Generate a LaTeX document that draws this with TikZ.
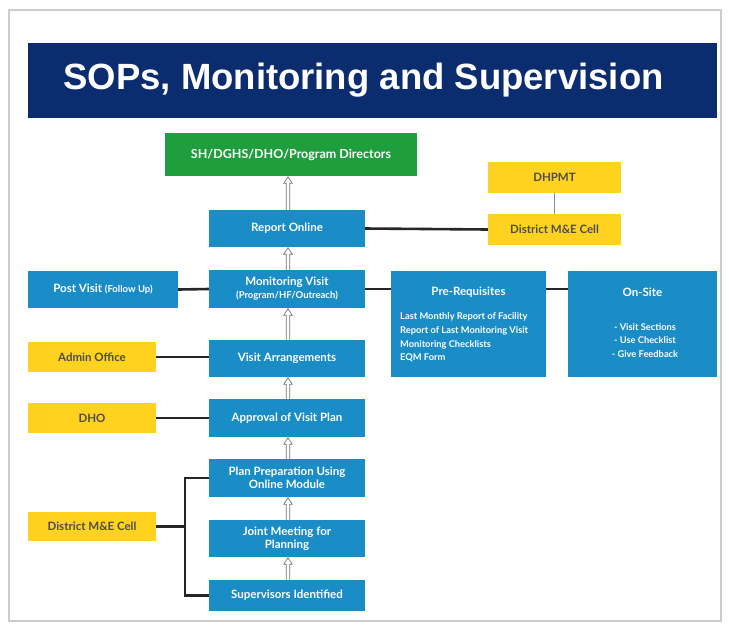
\documentclass[tikz,border=0pt]{standalone}
\usepackage{fontspec}
\setmainfont{Lato}
\newfontfamily\titlefont{Liberation Sans}
\usetikzlibrary{calc}
\definecolor{navy}{HTML}{0B2C6E}
\definecolor{boxblue}{HTML}{1A8CC6}
\definecolor{boxyellow}{HTML}{FFD21F}
\definecolor{boxgreen}{HTML}{1E9E3C}
\tikzset{
  bluebox/.style={fill=boxblue, draw=none, text=white, font=\bfseries\fontsize{11.5}{13}\selectfont, align=center, inner sep=2pt},
  yellowbox/.style={fill=boxyellow, draw=none, text=black!70, font=\bfseries\fontsize{11.5}{13}\selectfont, align=center, inner sep=2pt},
  greenbox/.style={fill=boxgreen, draw=none, text=white, font=\bfseries\fontsize{12.5}{14}\selectfont, align=center, inner sep=2pt},
  link/.style={line width=2.6pt, black!85},
  thinlink/.style={line width=0.6pt, black!45},
  hollowarrow/.style={draw=black!55, line width=0.7pt, fill=white, line join=miter},
  smalltext/.style={text=white, font=\bfseries\fontsize{9.3}{13.7}\selectfont, inner sep=0pt}
}
\begin{document}
\begin{tikzpicture}[x=1pt,y=-1pt]
\useasboundingbox (0,0) rectangle (729,625);
\fill[white] (0,0) rectangle (729,625);
\draw[black!20, line width=1.5pt] (9,10) rectangle (721,621);
% title
\node[fill=navy, minimum width=689, minimum height=75, inner sep=0pt, text=white, font=\titlefont\bfseries\fontsize{36.5}{40}\selectfont] (title) at (372.5,80.5) {\hspace*{-18pt}SOPs, Monitoring and Supervision};
% nodes
\node[greenbox, minimum width=252, minimum height=43] (top) at (291,154.5) {SH/DGHS/DHO/Program Directors};
\node[bluebox, minimum width=156, minimum height=37] (report) at (287,228.5) {Report Online};
\node[yellowbox, minimum width=133, minimum height=31] (dhpmt) at (554.5,177.5) {DHPMT};
\node[yellowbox, minimum width=133, minimum height=31] (dmetop) at (554.5,229.5) {District M\&E Cell};
\node[bluebox, minimum width=156, minimum height=38] (monitor) at (287,289) {Monitoring Visit\\[0pt]{\fontsize{9.5}{10}\selectfont (Program/HF/Outreach)}};
\node[bluebox, minimum width=150, minimum height=37] (post) at (103,289.5) {Post Visit {\fontsize{9.5}{10}\selectfont (Follow Up)}};
\node[bluebox, minimum width=155, minimum height=106] (prereq) at (468.5,324) {};
\node[bluebox, minimum width=149, minimum height=106] (onsite) at (642.5,324) {};
\node[bluebox, anchor=center] (prereqt) at (468.5,292) {Pre-Requisites};
\node[smalltext, align=left, anchor=west] (prereql) at (400,337.5) {Last Monthly Report of Facility\\Report of Last Monitoring Visit\\Monitoring Checklists\\EQM Form};
\node[bluebox, anchor=center] (onsitet) at (642.5,292) {On-Site};
\node[smalltext, align=center, anchor=center] (onsitel) at (645,340.5) {- Visit Sections\\- Use Checklist\\- Give Feedback};
\node[bluebox, minimum width=156, minimum height=37] (arrange) at (287,358.5) {Visit Arrangements};
\node[yellowbox, minimum width=128, minimum height=30] (admin) at (92,357) {Admin Office};
\node[bluebox, minimum width=156, minimum height=38] (approval) at (287,418) {Approval of Visit Plan};
\node[yellowbox, minimum width=128, minimum height=30] (dho) at (92,418) {DHO};
\node[bluebox, minimum width=156, minimum height=38] (plan) at (287,478) {Plan Preparation Using\\Online Module};
\node[bluebox, minimum width=156, minimum height=37] (joint) at (287,538.5) {Joint Meeting for\\Planning};
\node[bluebox, minimum width=156, minimum height=31] (sup) at (287,595.5) {Supervisors Identified};
\node[yellowbox, minimum width=128, minimum height=29] (dmebot) at (92,526.5) {District M\&E Cell};
% hollow up arrows
\foreach \a/\b in {report/top, monitor/report, arrange/monitor, approval/arrange, plan/approval, joint/plan, sup/joint}
  \draw[hollowarrow] let \p1=([xshift=1pt]\a.north), \p2=(\b.south) in
    (\x1-1.8pt,\y1) -- (\x1-1.8pt,\y2-7pt) -- (\x1-4.2pt,\y2-7pt) -- (\x1,\y2-0.5pt) -- (\x1+4.2pt,\y2-7pt) -- (\x1+1.8pt,\y2-7pt) -- (\x1+1.8pt,\y1);
% links
\draw[link] (report.east) -- (dmetop.west);
\draw[thinlink] (dhpmt.south) -- (dmetop.north);
\draw[link] (post.east) -- (monitor.west);
\draw[link] (monitor.east) -- (prereq.west |- monitor.east);
\draw[link] (prereq.east |- monitor.east) -- (onsite.west |- monitor.east);
\draw[link] (admin.east) -- (arrange.west |- admin.east);
\draw[link] (dho.east) -- (approval.west);
\coordinate (brk) at (185,526.5);
\draw[link] (dmebot.east) -- (brk);
\draw[link] (plan.west) -| (brk) |- (sup.west);
\end{tikzpicture}
\end{document}
